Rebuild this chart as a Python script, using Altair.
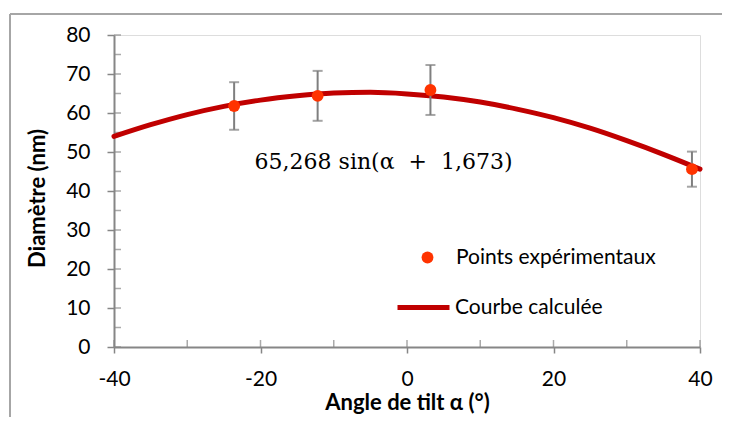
import altair as alt
import pandas as pd

angles_exp = [-23.6, -12.2, 3.2, 38.9]
diam_exp = [61.8, 64.4, 65.9, 45.6]
err_exp = [6.1, 6.4, 6.4, 4.5]

# Calculated curve
angles_curve = [-40, -35, -30, -25, -20, -15, -10, -5, 0, 5, 10, 15, 20, 25, 30, 35, 40]
diam_curve = [54.0, 57.0, 59.6, 61.7, 63.3, 64.4, 65.1, 65.3, 64.9, 64.1, 62.8, 61.0, 58.8, 56.1, 52.9, 49.4, 45.6]

x_major = [-40, -20, 0, 20, 40]
x_ticks_all = [-40, -30, -20, -10, 0, 10, 20, 30, 40]
y_major = [0, 10, 20, 30, 40, 50, 60, 70, 80]
y_ticks_all = [0, 5, 10, 15, 20, 25, 30, 35, 40, 45, 50, 55, 60, 65, 70, 75, 80]

formula = "65,268 sin(α\u00a0\u00a0+\u00a0\u00a01,673)"
formula_x = -3.2
formula_y = 47.4

FONT = "Lato"
AX = "#868686"
FRAME = "#A6A6A6"
LBL = "replace(datum.label, '\u2212', '-')"

exp_df = pd.DataFrame({
    "a": angles_exp,
    "d": diam_exp,
    "lo": [d - e for d, e in zip(diam_exp, err_exp)],
    "hi": [d + e for d, e in zip(diam_exp, err_exp)],
    "s": ["Points expérimentaux"] * len(angles_exp),
})
curve_df = pd.DataFrame({"a": angles_curve, "d": diam_curve, "s": ["Courbe calculée"] * len(angles_curve)})

xs = alt.Scale(domain=[-40, 40], nice=False, zero=False)
ys = alt.Scale(domain=[0, 80], nice=False, zero=False)

x_axis = alt.Axis(values=x_major, title="Angle de tilt α (°)", labelFont=FONT, labelFontSize=21,
                  labelColor="black", titleFont=FONT, titleFontSize=22, titleFontWeight="bold",
                  titleColor="black", grid=False, domainColor=AX, domainWidth=2, tickColor=AX,
                  tickWidth=1.5, tickSize=6, labelPadding=15, labelFlush=False, labelOverlap=False,
                  labelExpr=LBL, titleX=293, titleY=62, titleAlign="center", titleBaseline="alphabetic")
y_axis = alt.Axis(values=y_major, title="Diamètre (nm)", labelFont=FONT, labelFontSize=21,
                  labelColor="black", titleFont=FONT, titleFontSize=22, titleFontWeight="bold",
                  titleColor="black", grid=False, domainColor=AX, domainWidth=2, tickColor=AX,
                  tickWidth=1.5, tickSize=7, labelPadding=17, labelOverlap=False, labelFlush=False,
                  labelExpr=LBL, titleX=-77, titleY=163,
                  titleAlign="center", titleBaseline="middle", titleAngle=-90)


def X(f):
    return alt.X(f, scale=xs, axis=x_axis)


def Y(f):
    return alt.Y(f, scale=ys, axis=y_axis)


frame_top = alt.Chart(alt.Data(values=[{}])).mark_rule(stroke=FRAME, strokeWidth=2).encode(
    x=alt.value(-104), x2=alt.value(900), y=alt.value(-21)
)
frame_left = alt.Chart(alt.Data(values=[{}])).mark_rule(stroke=FRAME, strokeWidth=2).encode(
    x=alt.value(-104), y=alt.value(-21), y2=alt.value(600)
)

xt = alt.Chart(pd.DataFrame({"t": x_ticks_all, "z": [0] * len(x_ticks_all)})).mark_tick(
    orient="vertical", color=AX, size=7, thickness=1.5, yOffset=-3.5
).encode(x=X("t:Q"), y=Y("z:Q"))

yt = alt.Chart(pd.DataFrame({"t": y_ticks_all, "z": [-40] * len(y_ticks_all)})).mark_tick(
    orient="horizontal", color=AX, size=7, thickness=1.5, xOffset=3.5
).encode(x=X("z:Q"), y=Y("t:Q"))

line = alt.Chart(curve_df).mark_line(strokeWidth=5, interpolate="monotone", strokeCap="round").encode(
    x=X("a:Q"), y=Y("d:Q"),
    color=alt.Color("s:N", scale=alt.Scale(domain=["Courbe calculée"], range=["#C00000"]),
                    legend=alt.Legend(orient="none", legendX=281, legendY=244, title=None,
                                      symbolType="stroke", symbolSize=2704, symbolStrokeWidth=5,
                                      labelFont=FONT, labelFontSize=21, labelColor="black",
                                      labelOffset=3, labelLimit=400)),
)

bars = alt.Chart(exp_df).mark_rule(color="#7F7F7F", strokeWidth=2).encode(
    x=X("a:Q"), y=Y("lo:Q"), y2="hi:Q"
)
cap_lo = alt.Chart(exp_df).mark_tick(orient="horizontal", color="#7F7F7F", size=10, thickness=2).encode(
    x=X("a:Q"), y=Y("lo:Q")
)
cap_hi = alt.Chart(exp_df).mark_tick(orient="horizontal", color="#7F7F7F", size=10, thickness=2).encode(
    x=X("a:Q"), y=Y("hi:Q")
)

pts = alt.Chart(exp_df).mark_circle(size=140, opacity=1).encode(
    x=X("a:Q"), y=Y("d:Q"),
    color=alt.Color("s:N", scale=alt.Scale(domain=["Points expérimentaux"], range=["#FF3300"]),
                    legend=alt.Legend(orient="none", legendX=303, legendY=212, title=None,
                                      symbolType="circle", symbolSize=140, symbolStrokeWidth=0,
                                      labelFont=FONT, labelFontSize=21, labelColor="black",
                                      labelOffset=18, labelLimit=400)),
)

txt = alt.Chart(pd.DataFrame({"a": [formula_x], "d": [formula_y], "t": [formula]})).mark_text(
    font="DejaVu Serif", fontSize=22, color="black", align="center", baseline="middle"
).encode(x=X("a:Q"), y=Y("d:Q"), text="t:N")

chart = alt.layer(frame_top, frame_left, xt, yt, line, bars, cap_lo, cap_hi, pts, txt).resolve_scale(
    color="independent"
).properties(
    width=586, height=312,
    autosize=alt.AutoSizeParams(type="none"),
    padding={"left": 106, "top": 27, "right": 22, "bottom": 70},
).configure_view(stroke=None).configure(background="white")

chart.save("out.html", embed_options={"renderer": "svg", "actions": False})
